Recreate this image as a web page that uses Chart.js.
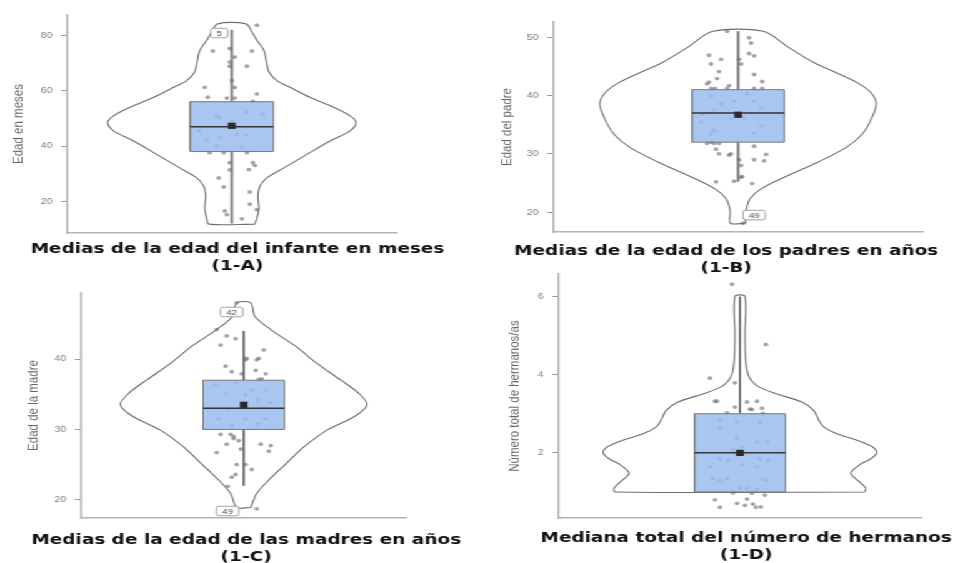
<!DOCTYPE html>
<html>
<head>
<meta charset="utf-8">
<script src="https://cdn.jsdelivr.net/npm/chart.js@4.4.0/dist/chart.umd.min.js"></script>
<style>
html, body { margin: 0; padding: 0; background: #fff; width: 954px; height: 563px; overflow: hidden; }
/* the reference figure is stretched sideways, so the page is drawn narrow and widened */
#page { position: absolute; left: 0; top: 0; width: 763.2px; height: 563px; transform: scaleX(1.25); transform-origin: 0 0; }
.panel { position: absolute; }
</style>
</head>
<body>
<div id="page">
  <div class="panel" style="left:4px;top:0px;width:372px;height:275px"><canvas id="chartA"></canvas></div>
  <div class="panel" style="left:391px;top:0px;width:380px;height:277px"><canvas id="chartB"></canvas></div>
  <div class="panel" style="left:14px;top:280px;width:366px;height:286px"><canvas id="chartC"></canvas></div>
  <div class="panel" style="left:396px;top:262px;width:402px;height:302px"><canvas id="chartD"></canvas></div>
</div>
<script>
// 1-A edad del infante (meses)
var titleA = ['Medias de la edad del infante en meses', '(1-A)'];
var yTitleA = 'Edad en meses';
var ticksA = [20, 40, 60, 80];
var statsA = [12, 38, 47, 56, 82, 47.3];   // bigote inf, Q1, mediana, Q3, bigote sup, media
// [valor, semiancho de la densidad]
var violinA = [[11.8,23],[13.9,25],[17.6,27],[21.8,26],[25.5,28],[28.5,35],[32.1,52],[37,75],[41.8,98],[45.5,118],
  [48.5,124],[50.9,118],[53.9,102],[57.6,78],[61.2,58],[63.6,45],[66.7,37],[69.7,35],[74.5,32],[78.2,25],[80.6,21],[84.1,14]];
// [jitter, valor]
var pointsA = [[25,83.6],[-19,74.3],[-2,75.2],[20,74.3],[3,72.1],[-2,70.3],[15,68.8],[-2,68.8],[0,63.6],[-27,61.2],
  [3,61.2],[-24,57.6],[-5,57.3],[3,57.3],[25,58.8],[21,56.1],[-15,50.9],[-12,50.3],[15,52.1],[31,51.5],[-32,45.5],
  [-12,43],[5,44],[-25,42],[15,44],[-15,40],[0,49],[10,39.5],[-22,37.6],[-8,37.6],[15,37.6],[-2,34],[21,34],[17,31.5],
  [23,33],[-2,31.4],[-13,28.5],[-8,25.2],[18,23.4],[18,19],[25,17],[-7,16.6],[-5,15.2],[10,13.7]];
var tagsA = [['5', -12.5, 80.8]];

// 1-B edad del padre
var titleB = ['Medias de la edad de los padres en años', '(1-B)'];
var yTitleB = 'Edad del padre';
var ticksB = [20, 30, 40, 50];
var statsB = [25.2, 32, 37, 41, 51, 36.7];
var violinB = [[18.1,7.5],[20.3,8],[22.3,12],[24.0,23],[26.3,50],[28.6,80],[31.1,108],[33.4,124],[36.0,133],
  [38.6,138],[40.6,132],[42.3,118],[44.0,97],[45.7,75],[48.3,50],[51.0,25]];
var pointsB = [[-11,51],[11,49.9],[13,49],[-29,46.9],[-27,45.4],[-17,46.2],[1,46.2],[3,45.4],[11,47.2],[16,46.8],
  [-19,44.1],[16,43.6],[-21,42.9],[-29,42.3],[-31,42],[24,42.4],[-9,41.7],[-27,41.2],[-23,41.2],[-11,41.2],[16,41.2],
  [24,41.2],[-27,40],[9,40.3],[-17,38.6],[-4,39],[16,39],[23,37.9],[-36,36.8],[-24,37.5],[-7,36],[6,36.2],[23,34.8],
  [-37,35.4],[-24,34],[16,33.5],[-27,33.4],[-27,32],[-24,31.8],[-31,31.8],[-19,31.8],[16,31.3],[-22,30.8],[-19,30],
  [-9,29.8],[-7,30],[28,29.9],[1,29],[16,29],[26,28.8],[3,28],[3,26],[4,26.1],[-22,25.2],[-4,25.3],[14,24.9],[5,18.1]];
var tagsB = [['49', 16, 19.5]];

// 1-C edad de la madre
var titleC = ['Medias de la edad de las madres en años', '(1-C)'];
var yTitleC = 'Edad de la madre';
var ticksC = [20, 30, 40];
var statsC = [22, 30, 33, 37, 44, 33.5];
var violinC = [[18.9,7],[20.9,13],[22.8,25],[25.1,42],[27.5,60],[29.9,83],[31.8,110],[33.5,123],[35.1,115],
  [37.0,97],[39.4,73],[41.8,52],[44.2,27],[46.1,11],[48.0,7]];
var pointsC = [[-7,48.0],[-27,44.2],[-17,43.3],[-8,42.9],[-23,42.0],[20,41.3],[3,40.1],[2,39.9],[15,40.1],[13,39.9],
  [-18,39.0],[-12,38.2],[-2,37.9],[12,38.4],[22,37.9],[18,37.2],[15,37.1],[-28,36.4],[-8,36.6],[8,35.6],[22,35.6],
  [-18,35.1],[2,34.9],[15,34.2],[27,33.8],[-15,32.9],[-25,31.5],[2,31.5],[22,31.5],[15,30.8],[-12,30.6],[-23,29.3],
  [-13,29.3],[-10,29.0],[-10,28.7],[-17,27.9],[-5,28.4],[-3,27.2],[17,27.9],[27,27.7],[25,26.9],[-27,26.7],[-7,25.0],
  [2,25.0],[8,24.3],[-8,23.6],[-12,23.2],[-16,21.9],[13,18.7]];
var tagsC = [['42', -12, 46.7], ['49', -16, 18.4]];

// 1-D número de hermanos
var titleD = ['Mediana total del número de hermanos', '(1-D)'];
var yTitleD = 'Número total de hermanos/as';
var ticksD = [2, 4, 6];
var statsD = [1, 1, 2, 3, 6, 2.0];
var violinD = [[1.0,125],[1.1,126],[1.25,120],[1.48,111],[1.7,120],[1.85,131],[2.0,137],[2.15,133],[2.3,120],
  [2.49,97],[2.66,84],[2.83,79],[3.08,74],[3.3,62],[3.5,38],[3.7,18],[3.95,9],[4.3,6],[5.0,5],[6.0,5]];
var pointsD = [[-8,6.31],[26,4.77],[-30,3.91],[-5,3.79],[-25,3.32],[-23,3.32],[7,3.30],[17,3.32],[-5,3.17],[10,3.12],
  [12,3.11],[22,3.14],[-13,3.02],[23,3.0],[-20,2.83],[-3,2.79],[20,2.77],[-20,2.62],[-3,2.38],[17,2.28],[27,2.28],
  [-7,2.1],[2,2.15],[-20,1.85],[-12,1.82],[20,1.85],[28,1.82],[-30,1.64],[3,1.7],[17,1.64],[-27,1.35],[-13,1.35],
  [-20,1.3],[22,1.33],[27,1.30],[0,1.1],[7,1.1],[17,1.07],[-7,0.98],[12,0.97],[25,0.92],[-25,0.80],[7,0.82],[-3,0.71],
  [13,0.69],[5,0.66],[-20,0.61],[16,0.61],[21,0.62]];
var tagsD = [];

Chart.defaults.font.family = '"Liberation Sans", Arial, sans-serif';

//small boxed numbers next to the outliers
function tagPlugin(tags) {
  return {
    id: 'tags',
    afterDatasetsDraw: function(chart) {
      var ctx = chart.ctx, xs = chart.scales.x, ys = chart.scales.y;
      ctx.save();
      ctx.font = '8px "Liberation Sans"';
      ctx.textAlign = 'center';
      ctx.textBaseline = 'middle';
      tags.forEach(function(t) {
        var x = xs.getPixelForValue(t[1]), y = ys.getPixelForValue(t[2]);
        var w = ctx.measureText(t[0]).width + 9, h = 9.5;
        ctx.beginPath();
        ctx.roundRect(x - w / 2, y - h / 2, w, h, 2);
        ctx.fillStyle = '#fff';
        ctx.fill();
        ctx.strokeStyle = '#8c8c8c';
        ctx.lineWidth = 0.8;
        ctx.stroke();
        ctx.fillStyle = '#555';
        ctx.fillText(t[0], x, y + 0.5);
      });
      ctx.restore();
    }
  };
}

function violinChart(id, o) {
  var s = o.stats, bw = o.boxHalf;
  var outline = [];
  o.violin.forEach(function(p) { outline.push({x: p[1], y: p[0]}); });
  for (var i = o.violin.length - 1; i >= 0; i--) outline.push({x: -o.violin[i][1], y: o.violin[i][0]});
  outline.push(outline[0]);

  var pts = o.points.map(function(p) { return {x: p[0], y: p[1]}; });

  return new Chart(document.getElementById(id), {
    type: 'scatter',
    data: {
      datasets: [{
        // media
        data: [{x: 0, y: s[5]}],
        pointStyle: 'rect', pointRadius: 4.4, backgroundColor: '#2a2a2a', borderWidth: 0
      }, {
        // mediana
        data: [{x: -bw, y: s[2]}, {x: bw, y: s[2]}],
        showLine: true, borderColor: '#333', borderWidth: 1.5, pointRadius: 0
      }, {
        // caja
        data: [{x: -bw, y: s[1]}, {x: bw, y: s[1]}, {x: bw, y: s[3]}, {x: -bw, y: s[3]}, {x: -bw, y: s[1]}],
        showLine: true, fill: 'shape', backgroundColor: 'rgba(154,188,237,0.85)',
        borderColor: '#777', borderWidth: 1, pointRadius: 0
      }, {
        data: pts,
        pointRadius: 1.9, backgroundColor: 'rgba(105,105,105,0.6)', borderWidth: 0
      }, {
        // bigotes
        data: [{x: 0, y: s[0]}, {x: 0, y: s[1]}, {x: 0, y: null}, {x: 0, y: s[3]}, {x: 0, y: s[4]}],
        showLine: true, spanGaps: false, borderColor: '#7a7a7a', borderWidth: 2, pointRadius: 0
      }, {
        data: outline,
        showLine: true, fill: false, tension: 0.3, borderColor: '#6e6e6e', borderWidth: 1.1, pointRadius: 0
      }]
    },
    options: {
      responsive: true,
      maintainAspectRatio: false,
      animation: false,
      events: [],
      layout: {padding: {top: o.padTop, right: 0, left: 0, bottom: 0}},
      plugins: {
        legend: {display: false},
        tooltip: {enabled: false},
        title: {
          display: true, position: 'bottom', text: o.title, color: '#111',
          font: {family: '"DejaVu Sans", Verdana, sans-serif', size: 14.8, weight: 'bold', lineHeight: '17px'},
          padding: {top: o.titlePad, bottom: 0}
        }
      },
      scales: {
        x: {
          type: 'linear', min: -o.half, max: o.half,
          ticks: {display: false},
          grid: {display: false, drawTicks: false},
          border: {display: true, color: '#b3b3b3', width: 1.5},
          afterFit: function(sc) { sc.height = 0; }
        },
        y: {
          type: 'linear', min: o.range[0], max: o.range[1],
          afterBuildTicks: function(sc) { sc.ticks = o.ticks.map(function(v) { return {value: v}; }); },
          ticks: {color: '#808080', font: {size: 8.5}, padding: 7},
          grid: {drawOnChartArea: false, tickLength: 5, color: '#999'},
          border: {color: '#b3b3b3', width: 1.5},
          title: {display: true, text: o.yTitle, color: '#666', font: {size: 11.5}, padding: {top: o.yTitlePad, bottom: 0}},
          afterFit: function(sc) { sc.width = o.yWidth; }
        },
        // empty right-hand margin so the bottom title keeps the whole canvas width
        gap: {
          position: 'right',
          ticks: {display: false},
          grid: {display: false, drawTicks: false},
          border: {display: false},
          afterFit: function(sc) { sc.width = o.padRight; }
        }
      }
    },
    plugins: [tagPlugin(o.tags)]
  });
}

violinChart('chartA', {title: titleA, yTitle: yTitleA, ticks: ticksA, stats: statsA, violin: violinA, points: pointsA, tags: tagsA,
  range: [8.6, 87.3], half: 164, boxHalf: 41.5, yWidth: 50, padTop: 15, padRight: 59, titlePad: 8, yTitlePad: 3.5});
violinChart('chartB', {title: titleB, yTitle: yTitleB, ticks: ticksB, stats: statsB, violin: violinB, points: pointsB, tags: tagsB,
  range: [16.6, 52.6], half: 184, boxHalf: 46, yWidth: 52, padTop: 22, padRight: 33, titlePad: 11, yTitlePad: 7.5});
violinChart('chartC', {title: titleC, yTitle: yTitleC, ticks: ticksC, stats: statsC, violin: violinC, points: pointsC, tags: tagsC,
  range: [17.4, 49.4], half: 162, boxHalf: 40.5, yWidth: 51, padTop: 13, padRight: 55, titlePad: 14, yTitlePad: 5.9});
violinChart('chartD', {title: titleD, yTitle: yTitleD, ticks: ticksD, stats: statsD, violin: violinD, points: pointsD, tags: tagsD,
  range: [0.335, 6.57], half: 181.4, boxHalf: 45.5, yWidth: 51, padTop: 11, padRight: 61, titlePad: 12, yTitlePad: 9.1});
</script>
</body>
</html>
